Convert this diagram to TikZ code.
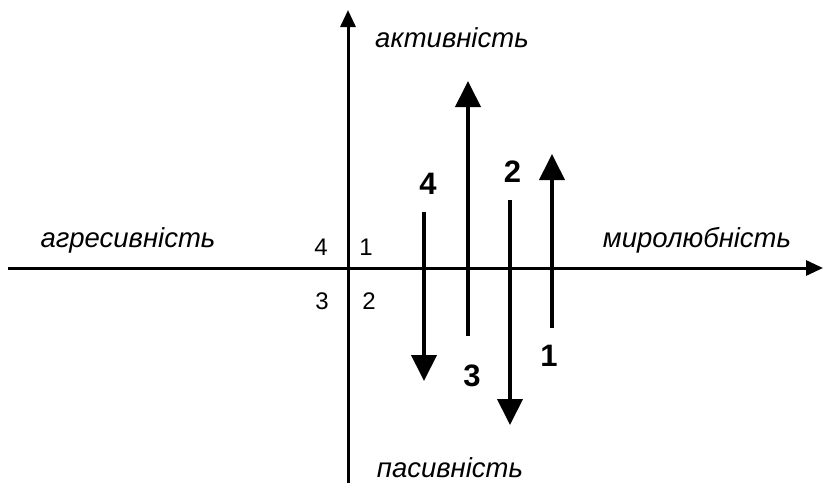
\documentclass[tikz,border=0pt]{standalone}
\usepackage{fontspec}
\setmainfont{Liberation Sans}
\usetikzlibrary{arrows.meta}
\begin{document}
\begin{tikzpicture}[x=1pt,y=-1pt,
  axis/.style={line width=3pt,-{Triangle[length=17pt,width=15pt]}},
  move/.style={line width=4pt,-{Triangle[length=26pt,width=25pt]}},
  pole/.style={font=\fontsize{27.5}{30}\selectfont\itshape},
  quad/.style={font=\fontsize{24}{27}\selectfont},
  num/.style={font=\fontsize{31}{35}\selectfont\bfseries}]
\useasboundingbox (0,0) rectangle (823,483);
\fill[white] (0,0) rectangle (823,483);
\coordinate (hl) at (8,268);
\coordinate (hr) at (823,268);
\coordinate (vb) at (348,483);
\coordinate (vt) at (348,10);
\draw[axis] (hl) -- (hr);
\draw[axis] (vb) -- (vt);
% movement arrows
\coordinate (a4s) at (424,212); \coordinate (a4e) at (424,381);
\coordinate (a3s) at (468,336); \coordinate (a3e) at (468,81);
\coordinate (a2s) at (510,200); \coordinate (a2e) at (510,425);
\coordinate (a1s) at (552,328); \coordinate (a1e) at (552,154);
\draw[move] (a4s) -- (a4e);
\draw[move] (a3s) -- (a3e);
\draw[move] (a2s) -- (a2e);
\draw[move] (a1s) -- (a1e);
% labels
\node[num] (n4) at (428,184) {4};
\node[num] (n2) at (512.5,171.5) {2};
\node[num] (n3) at (472,375.5) {3};
\node[num] (n1) at (549,355.5) {1};
\node[quad] (q4) at (321,247) {4};
\node[quad] (q1) at (366,247) {1};
\node[quad] (q3) at (322,301) {3};
\node[quad] (q2) at (369,301) {2};
\node[pole] (act) at (452,38) {активність};
\node[pole] (agr) at (128,240) {агресивність};
\node[pole] (myr) at (697,240) {миролюбність};
\node[pole] (pas) at (450,468) {пасивність};
\end{tikzpicture}
\end{document}
